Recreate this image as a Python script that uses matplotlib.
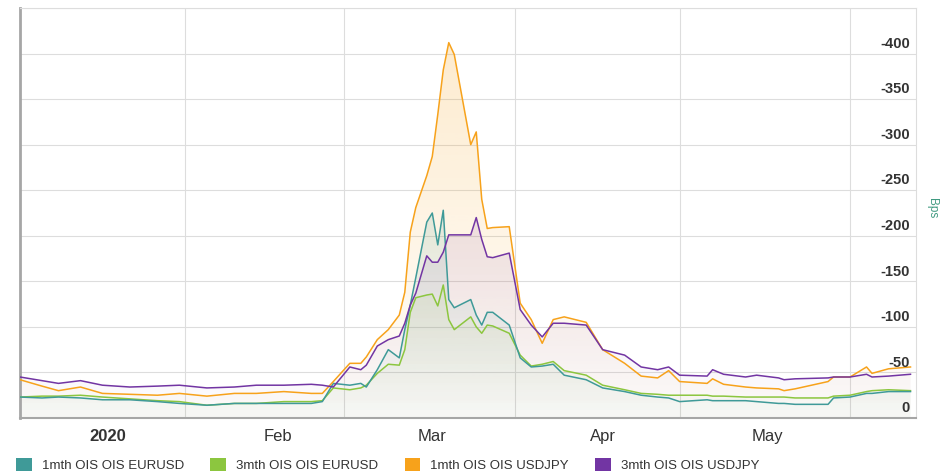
import numpy as np
import pandas as pd
import matplotlib
matplotlib.use('Agg')
import matplotlib.pyplot as plt
import matplotlib.dates as mdates
from matplotlib.colors import to_rgb
from matplotlib.patches import Patch

plt.rcParams['font.family'] = ['Liberation Sans', 'DejaVu Sans']

# даты
dates = pd.to_datetime([
    '2020-01-02', '2020-01-06', '2020-01-09', '2020-01-13', '2020-01-17', '2020-01-22',
    '2020-01-27', '2020-01-31', '2020-02-05', '2020-02-10', '2020-02-14', '2020-02-19',
    '2020-02-24', '2020-02-26', '2020-02-28', '2020-03-02', '2020-03-04', '2020-03-05',
    '2020-03-07', '2020-03-09', '2020-03-11', '2020-03-12', '2020-03-13', '2020-03-14',
    '2020-03-16', '2020-03-17', '2020-03-18', '2020-03-19', '2020-03-20', '2020-03-21',
    '2020-03-24', '2020-03-25', '2020-03-26', '2020-03-27', '2020-03-28', '2020-03-31',
    '2020-04-02', '2020-04-04', '2020-04-06', '2020-04-08', '2020-04-10', '2020-04-14',
    '2020-04-17', '2020-04-21', '2020-04-24', '2020-04-27', '2020-04-29', '2020-05-01',
    '2020-05-06', '2020-05-07', '2020-05-09', '2020-05-13', '2020-05-15', '2020-05-19',
    '2020-05-20', '2020-05-22', '2020-05-28', '2020-05-29', '2020-06-01', '2020-06-04',
    '2020-06-05', '2020-06-08', '2020-06-12'])

eur_1m = [-23, -22, -23, -22, -20, -20, -18, -16, -14, -16, -16, -16,
          -16, -18, -38, -36, -38, -34, -53, -75, -66, -97, -124, -154,
          -215, -225, -190, -228, -130, -121, -130, -113, -102, -116, -116, -102,
          -66, -56, -57, -59, -47, -42, -33, -29, -25, -23, -22, -18,
          -20, -19, -19, -19, -18, -16, -16, -15, -15, -22, -23, -27,
          -27, -29, -29]
eur_3m = [-23, -24, -24, -25, -23, -21, -19, -18, -14, -16, -16, -18,
          -18, -19, -33, -31, -33, -36, -49, -59, -58, -75, -116, -132,
          -135, -136, -123, -146, -108, -97, -111, -100, -93, -102, -101, -93,
          -69, -57, -59, -62, -52, -47, -36, -31, -27, -26, -25, -25,
          -25, -24, -24, -23, -23, -23, -23, -22, -22, -24, -25, -29,
          -30, -31, -30]
jpy_1m = [-42, -35, -30, -34, -27, -26, -25, -27, -24, -27, -27, -29,
          -27, -27, -40, -60, -60, -67, -86, -97, -113, -138, -204, -231,
          -266, -287, -333, -382, -412, -399, -300, -314, -240, -208, -209, -210,
          -126, -108, -82, -108, -111, -105, -75, -60, -46, -44, -52, -40,
          -38, -43, -37, -34, -33, -32, -30, -32, -40, -45, -45, -56,
          -49, -54, -56]
jpy_3m = [-45, -41, -38, -41, -36, -34, -35, -36, -33, -34, -36, -36,
          -37, -36, -34, -56, -53, -58, -79, -86, -90, -104, -124, -137,
          -178, -171, -171, -182, -201, -201, -201, -220, -196, -177, -176, -181,
          -119, -102, -89, -104, -104, -102, -75, -69, -56, -53, -56, -47,
          -46, -53, -48, -45, -47, -44, -42, -43, -44, -45, -45, -48,
          -45, -46, -48]

names = ['1mth OIS OIS EURUSD', '3mth OIS OIS EURUSD', '1mth OIS OIS USDJPY', '3mth OIS OIS USDJPY']
colors = ['#3f9a98', '#8cc63f', '#f7a21b', '#7235a3']

month_starts = pd.to_datetime(['2020-02-01', '2020-03-01', '2020-04-01', '2020-05-01', '2020-06-01'])
label_pos = pd.to_datetime(['2020-01-18', '2020-02-18', '2020-03-17', '2020-04-17', '2020-05-17'])
month_labels = ['2020', 'Feb', 'Mar', 'Apr', 'May']
y_ticks = [0, -50, -100, -150, -200, -250, -300, -350, -400, -450]


def gradient_area(ax, x, y, color, a_top, a_bot, z):
    # заливка с вертикальным градиентом по всей высоте оси
    poly = ax.fill_between(x, y, 0, facecolor='none', edgecolor='none')
    r, g, b = to_rgb(color)
    n = 256
    grad = np.zeros((n, 1, 4))
    grad[:, 0, 0] = r
    grad[:, 0, 1] = g
    grad[:, 0, 2] = b
    grad[:, 0, 3] = np.linspace(a_bot, a_top, n)
    xn = mdates.date2num(x)
    im = ax.imshow(grad, extent=[xn[0], xn[-1], 0, -450], origin='lower',
                   aspect='auto', zorder=z, interpolation='bilinear')
    im.set_clip_path(poly.get_paths()[0], transform=ax.transData)


fig = plt.figure(figsize=(9.48, 4.74), dpi=100)
ax = fig.add_axes([20 / 948, 56 / 474, 896 / 948, 410 / 474])

series = [eur_1m, eur_3m, jpy_1m, jpy_3m]
fill_order = [2, 3, 0, 1]
alphas = [0.26, 0.26, 0.23, 0.22]
for k, i in enumerate(fill_order):
    gradient_area(ax, dates, series[i], colors[i], alphas[i], 0.015, 1 + k * 0.1)

for i in [1, 0, 2, 3]:
    ax.plot(dates, series[i], color=colors[i], lw=1.1, zorder=3)

ax.set_xlim(pd.Timestamp('2020-01-02'), pd.Timestamp('2020-06-13'))
ax.set_ylim(0, -450)

ax.set_xticks(month_starts)
ax.set_xticklabels([''] * len(month_starts))
ax.set_xticks(label_pos, minor=True)
ax.set_xticklabels(month_labels, minor=True, fontsize=12, color='#333333')
ax.get_xticklabels(minor=True)[0].set_fontweight('bold')
ax.tick_params(axis='x', which='both', length=0, pad=8)

ax.set_yticks(y_ticks)
ax.set_yticklabels([])
ax.tick_params(axis='y', length=0)
for v in y_ticks[:-1]:
    ax.annotate(str(v), xy=(1, v), xycoords=('axes fraction', 'data'),
                xytext=(-4.5, 2), textcoords='offset points', ha='right', va='bottom',
                fontsize=10.5, fontweight='bold', color='#333333', zorder=5)

ax.grid(True, which='major', color='#dddddd', lw=0.8)
ax.set_axisbelow(True)
for side in ['top', 'right']:
    ax.spines[side].set_color('#dddddd')
    ax.spines[side].set_linewidth(0.8)
ax.spines['left'].set_color('#a6a6a6')
ax.spines['left'].set_linewidth(2)
ax.spines['bottom'].set_color('#a6a6a6')
ax.spines['bottom'].set_linewidth(1.5)

fig.text(932 / 948, 1 - 208 / 474, 'Bps', rotation=270, ha='center', va='center',
         fontsize=8.5, color='#3f9a80')

handles = [Patch(facecolor=c, edgecolor='none') for c in colors]
fig.legend(handles, names, loc='center left', bbox_to_anchor=(16 / 948, 9 / 474),
           ncol=4, frameon=False, fontsize=9.5, handlelength=1.2, handleheight=1.1,
           handletextpad=0.75, columnspacing=2.0, borderpad=0, borderaxespad=0,
           labelcolor='#333333')

fig.savefig('out.png', dpi=100)
